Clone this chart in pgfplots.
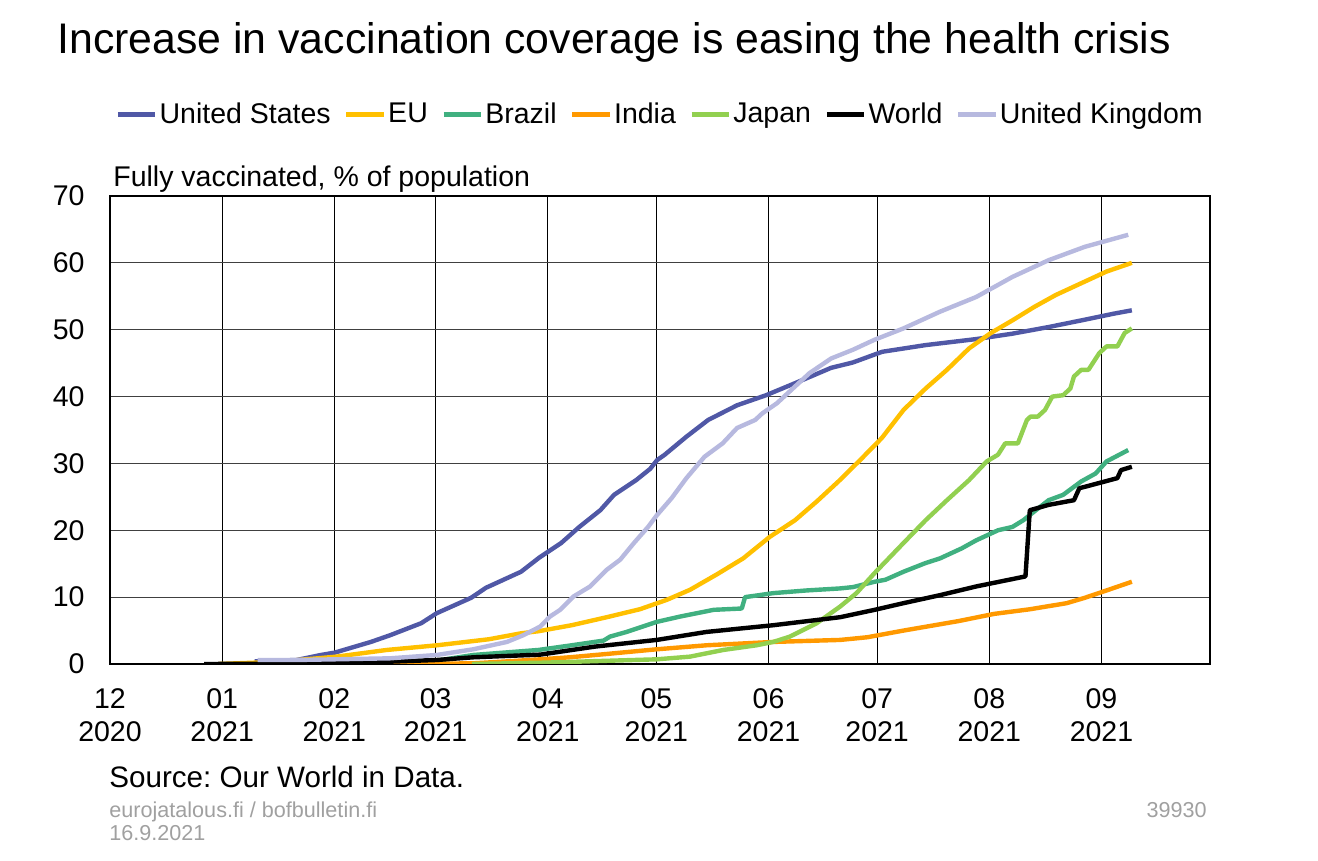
\documentclass[border=0pt]{standalone}
\usepackage{fontspec}
\setmainfont{Liberation Sans}
\usepackage{pgfplots}
\pgfplotsset{compat=1.18}

\definecolor{cUS}{RGB}{80,88,166}
\definecolor{cEU}{RGB}{255,192,0}
\definecolor{cBR}{RGB}{64,176,128}
\definecolor{cIN}{RGB}{255,153,0}
\definecolor{cJP}{RGB}{146,208,80}
\definecolor{cUK}{RGB}{183,185,223}
\definecolor{footgray}{RGB}{160,160,160}

\begin{document}
\frenchspacing
\begin{tikzpicture}
\path[use as bounding box] (-55pt,-98.5pt) rectangle (604pt,332pt);
\begin{axis}[
    at={(0,0)}, anchor=south west,
    scale only axis,
    width=550pt, height=234pt,
    xmin=0, xmax=304, ymin=0, ymax=70,
    xtick={0,31,62,90,121,151,182,212,243,274},
    xticklabels={{12\\2020},{01\\2021},{02\\2021},{03\\2021},{04\\2021},{05\\2021},{06\\2021},{07\\2021},{08\\2021},{09\\2021}},
    ytick={0,10,...,70},
    major tick length=0pt,
    /pgf/number format/assume math mode=true,
    tick label style={font=\fontsize{14.25}{16.5}\selectfont},
    xticklabel style={align=center, anchor=north, inner sep=0pt, yshift=-12pt},
    yticklabel style={anchor=east, inner sep=0pt, xshift=-12.5pt},
    grid=major,
    x grid style={black, line width=0.5pt},
    y grid style={black!75, line width=0.6pt},
    axis line style={black, line width=1pt},
    legend columns=7,
    legend style={at={(axis description cs:0.0045,1.1485)}, anchor=south west,
        draw=none, fill=none, inner sep=0pt, nodes={inner sep=0pt},
        font=\fontsize{14.25}{17}\selectfont,
        /tikz/every even column/.append style={column sep=6.6pt}},
    legend image code/.code={\draw[#1, line width=2.5pt, line cap=butt] (0pt,0pt) -- (18.7pt,0pt); \path (19.8pt,0pt);},
    every axis plot/.append style={line width=2.2pt, line join=round, no markers},
]
% United States
\addplot[cUS] coordinates {(40,0.4)(51.6,0.6)(58.3,1.35)(62.1,1.7)(72.1,3.3)(77.4,4.3)(86,6.1)(90.3,7.6)(99.8,9.9)(103.9,11.4)(113.6,13.8)(118.6,15.9)(124.7,18.1)(129.7,20.5)(135.5,23)(139.3,25.3)(145.4,27.5)(149.3,29.2)(151.2,30.5)(153.3,31.3)(159.3,34)(165.3,36.5)(173.3,38.7)(181.3,40.2)(189.3,42)(199.3,44.3)(205.3,45.1)(213.4,46.7)(225.4,47.7)(239.4,48.6)(249.3,49.4)(259.4,50.4)(269.4,51.5)(277.4,52.4)(282.4,52.9)};
\addlegendentry{United States}
% EU
\addplot[cEU] coordinates {(30,0)(45,0.3)(50,0.5)(62.6,1.1)(76.5,2.1)(90.4,2.8)(104.7,3.7)(113.7,4.6)(118.4,4.9)(127.6,5.8)(137.3,7.0)(146.5,8.2)(153.9,9.6)(160.3,11.1)(167.7,13.4)(175,15.8)(182.3,19.0)(189.3,21.5)(195.3,24.3)(201.3,27.3)(207.3,30.5)(213.3,33.8)(219.3,38)(225.4,41.2)(231.3,44)(237.4,47.2)(243.4,49.5)(249.4,51.4)(255.4,53.4)(261.4,55.2)(269.4,57.2)(275.4,58.7)(282.4,60.0)};
\addlegendentry{EU}
% Brazil
\addplot[cBR] coordinates {(70,0)(80,0.2)(90.3,0.5)(100.4,1.35)(118.4,2.1)(127.6,2.8)(136.4,3.5)(138.2,4.1)(142.8,4.8)(151.1,6.3)(157.6,7.1)(166.8,8.1)(174.6,8.3)(175.5,10.0)(183.3,10.6)(192.5,11.0)(201.7,11.3)(205.3,11.5)(211.3,12.3)(214.3,12.6)(219.3,13.8)(225.4,15.1)(229.4,15.8)(235.4,17.3)(239.4,18.5)(245.4,20)(249.4,20.5)(252.4,21.5)(255.4,22.8)(259.4,24.5)(263.4,25.3)(268.4,27.3)(272.4,28.5)(275.4,30.3)(281.4,32)};
\addlegendentry{Brazil}
% India
\addplot[cIN] coordinates {(74,0)(90,0.05)(100.4,0.1)(110,0.4)(118.9,0.7)(127,1.0)(137.3,1.5)(151.1,2.2)(164.9,2.8)(183.3,3.3)(201.8,3.6)(209.3,4.0)(219.3,5.0)(234.3,6.4)(244.4,7.5)(254.4,8.2)(264.4,9.1)(269.4,9.9)(275.4,11.0)(282.4,12.3)};
\addlegendentry{India}
% Japan
\addplot[cJP] coordinates {(100,0)(120,0.2)(151.1,0.7)(160.3,1.1)(169.5,2.1)(178.7,2.8)(183.3,3.3)(187.9,4.1)(195.3,6.1)(201.8,8.6)(206.3,10.6)(211.3,13.6)(219.3,18.1)(225.4,21.5)(231.3,24.5)(237.4,27.5)(242.3,30.3)(245.4,31.3)(247.4,33)(250.9,33)(253.4,36.5)(254.4,37)(256.4,37)(258.4,38)(260.4,40)(263.4,40.2)(265.4,41.2)(266.4,43)(268.4,44)(270.4,44)(273.4,46.5)(275.4,47.5)(278.4,47.5)(280.4,49.5)(282.4,50.2)};
\addlegendentry{Japan}
% World
\addplot[black] coordinates {(26,0)(55,0.05)(70,0.2)(80,0.4)(90.3,0.6)(100.4,1.0)(118.9,1.4)(134,2.6)(151.1,3.6)(164.9,4.8)(183.3,5.8)(201.8,7.0)(211.3,8.1)(219.3,9.1)(229.4,10.3)(239.4,11.6)(253,13.1)(254.2,23)(259.4,23.8)(266.4,24.5)(267.9,26.3)(269.4,26.5)(278.4,27.8)(279.4,29)(282.4,29.5)};
\addlegendentry{World}
% United Kingdom
\addplot[cUK] coordinates {(40.8,0.6)(51.6,0.6)(62.1,0.7)(77.4,0.85)(90.3,1.35)(100.4,2.2)(109.7,3.3)(114.2,4.3)(118.9,5.6)(121.6,7.1)(124.4,8.1)(128.1,10.1)(132.7,11.6)(137.3,14.1)(141,15.6)(144.8,18.1)(148.7,20.5)(151.2,22.3)(155.2,24.8)(159.3,27.8)(164.3,31)(169.3,33)(173.3,35.3)(178.3,36.5)(180.3,37.5)(184.3,39)(189.3,41.5)(193.3,43.5)(199.3,45.7)(205.3,47)(211.3,48.5)(219.3,50.2)(229.4,52.7)(239.4,54.9)(249.4,57.9)(259.4,60.4)(269.4,62.4)(281.4,64.2)};
\addlegendentry{United Kingdom}
\end{axis}
\node[anchor=base west, inner sep=0pt, font=\fontsize{21.4}{25}\selectfont] at (-26.5pt,305pt) {Increase in vaccination coverage is easing the health crisis};
\node[anchor=base west, inner sep=0pt, font=\fontsize{14.25}{17}\selectfont] at (1.5pt,238.6pt) {Fully vaccinated, \% of population};
\node[anchor=base west, inner sep=0pt, font=\fontsize{14.8}{17}\selectfont] at (-0.5pt,-62pt) {Source: Our World in Data.};
\node[anchor=base west, inner sep=0pt, font=\fontsize{10.8}{13}\selectfont, text=footgray] at (-0.5pt,-77pt) {eurojatalous.fi / bofbulletin.fi};
\node[anchor=base west, inner sep=0pt, font=\fontsize{10.8}{13}\selectfont, text=footgray] at (-0.5pt,-88.5pt) {16.9.2021};
\node[anchor=base east, inner sep=0pt, font=\fontsize{10.8}{13}\selectfont, text=footgray] at (548.5pt,-77pt) {39930};
\end{tikzpicture}
\end{document}
